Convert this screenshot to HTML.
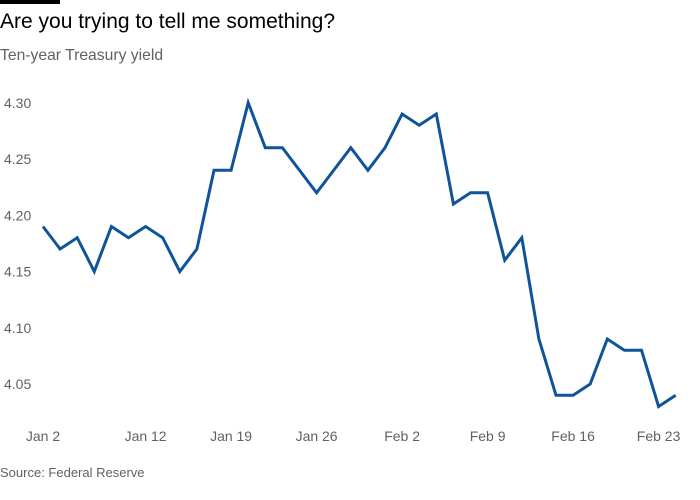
<!DOCTYPE html>
<html><head><meta charset="utf-8"><style>
body{margin:0;width:700px;height:500px;background:#fff;font-family:"Liberation Sans",sans-serif;overflow:hidden;position:relative}
.bar{position:absolute;left:0;top:0;width:60px;height:4px;background:#000}
.title{position:absolute;left:0;top:10px;font-size:21px;color:#000}
.sub{position:absolute;left:0;top:47px;font-size:15.7px;color:#66605c}
.src{position:absolute;left:0;top:465px;font-size:13px;color:#66605c}
svg{position:absolute;left:0;top:0}
</style></head><body>
<div class="bar"></div>
<div class="title">Are you trying to tell me something?</div>
<div class="sub">Ten-year Treasury yield</div>
<div class="src">Source: Federal Reserve</div>
<svg id="c" width="700" height="500"></svg>
<script>
const values=[4.19,4.17,4.18,4.15,4.19,4.18,4.19,4.18,4.15,4.17,4.24,4.24,4.30,4.26,4.26,4.24,4.22,4.24,4.26,4.24,4.26,4.29,4.28,4.29,4.21,4.22,4.22,4.16,4.18,4.09,4.04,4.04,4.05,4.09,4.08,4.08,4.03,4.04];
const xTickLabels=["Jan 2","Jan 12","Jan 19","Jan 26","Feb 2","Feb 9","Feb 16","Feb 23"];
const xTickIdx=[0,6,11,16,21,26,31,36];
const yTicks=[4.05,4.10,4.15,4.20,4.25,4.30];
const NS="http://www.w3.org/2000/svg",svg=document.getElementById('c');
const x=i=>43+i*17.1;
const y=v=>384+(4.05-v)*1125;
yTicks.forEach(t=>{const e=document.createElementNS(NS,'text');


e.setAttribute('x',4);e.setAttribute('y',y(t)+5);e.setAttribute('font-size','14');e.setAttribute('fill','#66605c');e.setAttribute('font-family','Liberation Sans');
e.textContent=t.toFixed(2);svg.appendChild(e);});
xTickLabels.forEach((l,k)=>{const e=document.createElementNS(NS,'text');


e.setAttribute('x',x(xTickIdx[k]));e.setAttribute('y',441);e.setAttribute('text-anchor','middle');e.setAttribute('font-size','14');e.setAttribute('fill','#66605c');e.setAttribute('font-family','Liberation Sans');
e.textContent=l;svg.appendChild(e);});
const p=document.createElementNS(NS,'polyline');


p.setAttribute('points',values.map((v,i)=>x(i)+','+y(v)).join(' '));
p.setAttribute('fill','none');p.setAttribute('stroke','#0f5499');p.setAttribute('stroke-width','3');p.setAttribute('stroke-linejoin','miter');
svg.appendChild(p);
</script>
</body></html>
